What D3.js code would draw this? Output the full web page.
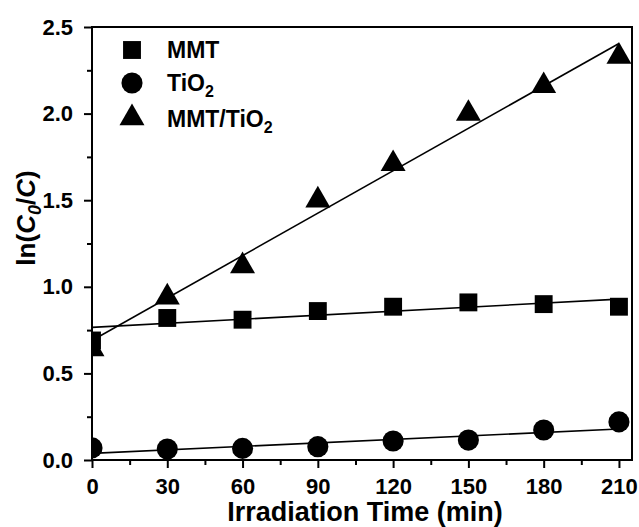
<!DOCTYPE html>
<html lang="en">
<head>
<meta charset="UTF-8">
<title>ln(C0/C) vs irradiation time</title>
<script src="https://d3js.org/d3.v7.min.js"></script>
<style>
    body, html {
        margin: 0;
        background: white;
    }
    svg text {
        font-family: "Liberation Sans", Arial, sans-serif;
        font-weight: bold;
        fill: black;
    }
</style>
</head>
<body>
<svg id="chart" width="639" height="527"></svg>
<script>
    // data
    const times = [0, 30, 60, 90, 120, 150, 180, 210];
    const mmt = [0.69, 0.82, 0.81, 0.86, 0.885, 0.91, 0.90, 0.885];
    const tio2 = [0.07, 0.063, 0.067, 0.077, 0.11, 0.115, 0.173, 0.22];
    const mmtTio2 = [0.64, 0.94, 1.12, 1.50, 1.71, 2.00, 2.16, 2.33];

    // linear fit lines, value at t = 0 and t = 210
    const fitTimes = [0, 210];
    const mmtFit = [0.766, 0.929];
    const tio2Fit = [0.038, 0.179];
    const mmtTio2Fit = [0.69, 2.405];

    const xTicks = [0, 30, 60, 90, 120, 150, 180, 210];
    const yTicks = [0, 0.5, 1.0, 1.5, 2.0, 2.5];

    const series = [
        { name: "MMT", sub: "", values: mmt, fit: mmtFit, symbol: d3.symbolSquare, size: 320 },
        { name: "TiO", sub: "2", values: tio2, fit: tio2Fit, symbol: d3.symbolCircle, size: 350 },
        { name: "MMT/TiO", sub: "2", values: mmtTio2, fit: mmtTio2Fit, symbol: d3.symbolTriangle, size: 270 }
    ];

    const margin = { top: 27, right: 7, bottom: 67, left: 92 };
    const svg = d3.select("#chart");
    const width = 639 - margin.left - margin.right;
    const height = 527 - margin.top - margin.bottom;

    const x = d3.scaleLinear().domain([0, 215.2]).range([0, width]);
    const y = d3.scaleLinear().domain([0, 2.5]).range([height, 0]);

    const g = svg.append("g").attr("transform", `translate(${margin.left},${margin.top})`);

    g.append("clipPath").attr("id", "plot-clip")
        .append("rect").attr("width", width).attr("height", height);

    // fit lines
    const line = d3.line().x((d, i) => x(fitTimes[i])).y(d => y(d));
    series.forEach(s => {
        g.append("path")
            .attr("d", line(s.fit))
            .attr("fill", "none")
            .attr("stroke", "black")
            .attr("stroke-width", 1.6);
    });

    // markers
    series.forEach(s => {
        g.append("g").attr("clip-path", "url(#plot-clip)")
            .selectAll("path")
            .data(s.values)
            .enter().append("path")
            .attr("transform", (d, i) => `translate(${x(times[i])},${y(d)})`)
            .attr("d", d3.symbol().type(s.symbol).size(s.size))
            .attr("fill", "black");
    });

    // frame
    g.append("rect")
        .attr("width", width).attr("height", height)
        .attr("fill", "none").attr("stroke", "black").attr("stroke-width", 2);

    // axes
    const xAxis = g.append("g")
        .attr("transform", `translate(0,${height})`)
        .call(d3.axisBottom(x).tickValues(xTicks).tickSize(8).tickPadding(10).tickFormat(d3.format("d")));
    const yAxis = g.append("g")
        .call(d3.axisLeft(y).tickValues(yTicks).tickSize(8).tickPadding(11).tickFormat(d3.format(".1f")));

    [xAxis, yAxis].forEach(a => {
        a.select(".domain").remove();
        a.selectAll("line").attr("stroke-width", 2);
        a.selectAll("text").style("font-size", "22px");
    });

    // minor ticks
    g.append("g")
        .attr("transform", `translate(0,${height})`)
        .call(d3.axisBottom(x).tickValues(d3.range(15, 211, 30)).tickSize(5).tickFormat(""))
        .call(a => a.select(".domain").remove())
        .selectAll("line").attr("stroke-width", 2);
    g.append("g")
        .call(d3.axisLeft(y).tickValues(d3.range(0.25, 2.5, 0.5)).tickSize(5).tickFormat(""))
        .call(a => a.select(".domain").remove())
        .selectAll("line").attr("stroke-width", 2);

    // axis titles
    svg.append("text")
        .attr("x", 365)
        .attr("y", 521)
        .attr("text-anchor", "middle")
        .style("font-size", "27px")
        .text("Irradiation Time (min)");

    const yTitle = svg.append("text")
        .attr("transform", "translate(35,218) rotate(-90)")
        .attr("text-anchor", "middle")
        .style("font-size", "26px");
    yTitle.append("tspan").text("ln(");
    yTitle.append("tspan").style("font-style", "italic").text("C");
    yTitle.append("tspan").attr("dy", 6).style("font-size", "18px").style("font-style", "italic").text("0");
    yTitle.append("tspan").attr("dy", -6).text("/");
    yTitle.append("tspan").style("font-style", "italic").text("C");
    yTitle.append("tspan").text(")");

    // legend
    const legendY = [50, 83, 118];
    const legendText = [58, 91, 127];
    series.forEach((s, i) => {
        svg.append("path")
            .attr("transform", `translate(132,${legendY[i]})`)
            .attr("d", d3.symbol().type(s.symbol).size(s.size))
            .attr("fill", "black");
        const t = svg.append("text")
            .attr("x", 167)
            .attr("y", legendText[i])
            .style("font-size", "23px");
        t.append("tspan").text(s.name);
        if (s.sub) {
            t.append("tspan").attr("dy", 6).style("font-size", "16px").text(s.sub);
        }
    });
</script>
</body>
</html>
